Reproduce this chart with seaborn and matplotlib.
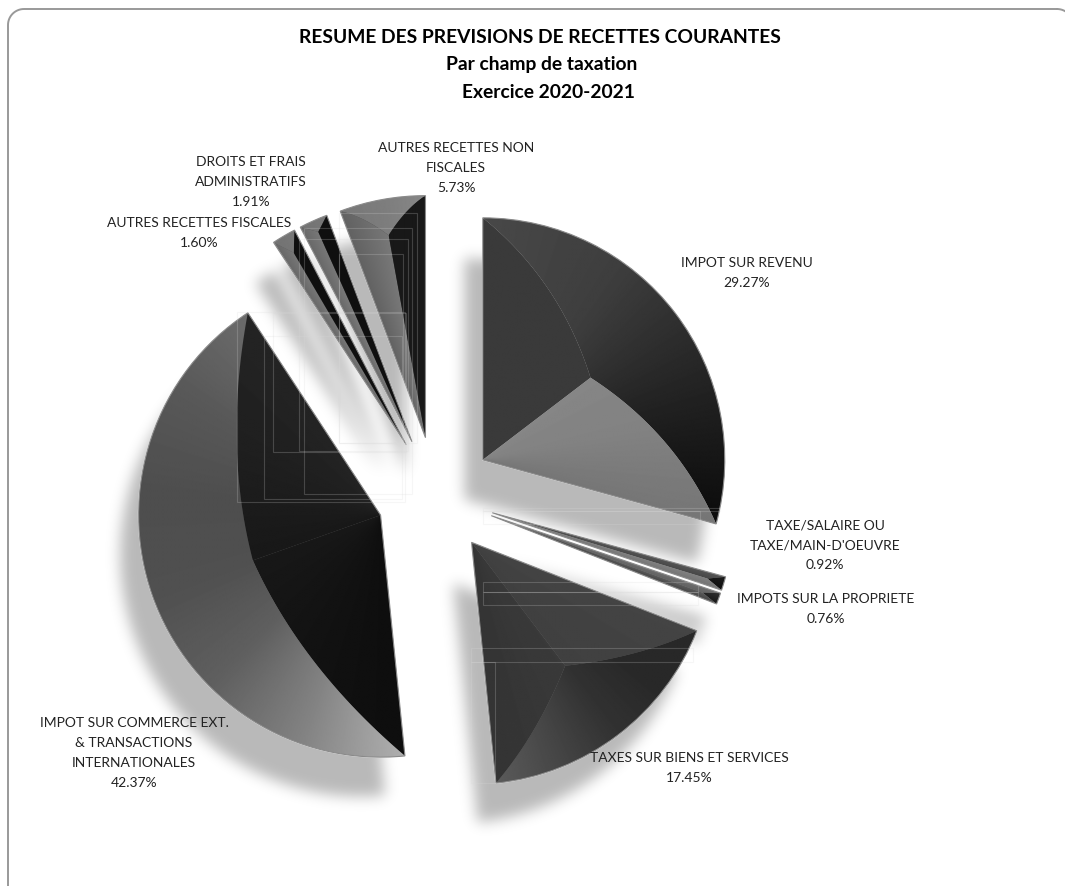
import numpy as np
import matplotlib
matplotlib.use("Agg")
import matplotlib.pyplot as plt
import seaborn as sns
from matplotlib.backends.backend_agg import FigureCanvasAgg
from matplotlib.figure import Figure
from matplotlib.patches import PathPatch, Rectangle
from matplotlib.path import Path

# chart values, clockwise from 12 o'clock
categories = ["IMPOT SUR REVENU", "TAXE/SALAIRE OU\nTAXE/MAIN-D'OEUVRE", "IMPOTS SUR LA PROPRIETE",
              "TAXES SUR BIENS ET SERVICES", "IMPOT SUR COMMERCE EXT.\n& TRANSACTIONS\nINTERNATIONALES",
              "AUTRES RECETTES FISCALES", "DROITS ET FRAIS\nADMINISTRATIFS", "AUTRES RECETTES NON\nFISCALES"]
shares = [29.27, 0.92, 0.76, 17.45, 42.37, 1.60, 1.91, 5.73]
title_lines = ["RESUME DES PREVISIONS DE RECETTES COURANTES", "Par champ de taxation", "Exercice 2020-2021"]

W, H = 1065, 886
CX, CY, RAD = 436, 495.5, 242
EXPLODE = 0.243

# label centres in pixels
label_pos = [(747, 273), (825, 545), (826, 609), (689, 768), (134, 753), (199, 233), (251, 182), (456, 168)]
title_pos = [(540, 38), (542, 65), (548, 93)]

# bevel look of each slice: inner point (fraction of radius), bow of the facet edges, gray stops
bevel = [
    (0.56, 0.12, [58, 58], [72, 62, 36, 12], [134, 130, 118]),
    (0.93, 0.00, [85, 72], [30, 15], [130, 118]),
    (0.93, 0.00, [112, 100], [50, 25], [92, 72]),
    (0.64, 0.05, [68, 64], [40, 40, 50, 70, 90], [58, 52]),
    (0.56, 0.12, [14, 24], [175, 130, 95, 80, 78, 88, 108], [24, 36]),
    (0.92, 0.00, [105, 120], [115, 120], [15, 15]),
    (0.95, 0.00, [105, 120], [115, 120], [15, 15]),
    (0.85, 0.03, [98, 120], [120, 125, 135], [24, 24]),
]

# faint leftover frames seen on top of the slices, in pixels
frames = [(339, 213, 417, 443), (304, 228, 412, 494), (299, 239, 408, 451), (339, 254, 403, 443),
          (273, 313, 406, 452), (264, 336, 402, 499), (237, 312, 405, 502), (483, 508, 720, 511),
          (483, 511, 700, 524), (483, 582, 698, 592), (483, 592, 698, 605),
          (471, 648, 693, 662), (471, 662, 495, 783)]


def px(x, y):
    return (x - CX) / RAD, (CY - y) / RAD


def setup(ax):
    ax.set_xlim(px(0, 0)[0], px(W, 0)[0])
    ax.set_ylim(px(0, H)[1], px(0, 0)[1])
    ax.set_aspect("auto")
    ax.axis("off")


def draw_pie(ax, **kw):
    return ax.pie(shares, explode=[EXPLODE] * len(shares), startangle=90, counterclock=False, radius=1, **kw)


def blurred_shadow():
    # slices drawn off screen, then softened
    f = Figure(figsize=(W / 100, H / 100), dpi=100)
    FigureCanvasAgg(f)
    a = f.add_axes([0, 0, 1, 1])
    draw_pie(a, colors=["k"] * len(shares), center=(-19 / RAD, -40 / RAD))
    setup(a)
    f.canvas.draw()
    mask = 1 - np.asarray(f.canvas.buffer_rgba())[:, :, 0] / 255
    x = np.arange(-21, 22)
    k = np.exp(-x ** 2 / (2 * 7.0 ** 2))
    k /= k.sum()
    mask = np.apply_along_axis(np.convolve, 0, mask, k, mode="same")
    mask = np.apply_along_axis(np.convolve, 1, mask, k, mode="same")
    rgba = np.zeros(mask.shape + (4,))
    rgba[:, :, 3] = 0.31 * mask
    return rgba


def facet_image(ax, poly, apex, t_fn, stops):
    xs, ys = poly[:, 0], poly[:, 1]
    x0, x1, y0, y1 = xs.min(), xs.max(), ys.min(), ys.max()
    nx, ny = max(int((x1 - x0) * RAD), 2), max(int((y1 - y0) * RAD), 2)
    gx, gy = np.meshgrid(np.linspace(x0, x1, nx), np.linspace(y1, y0, ny))
    ang = np.degrees(np.arctan2(gy - apex[1], gx - apex[0]))
    t = np.clip(t_fn(ang), 0, 1)
    gray = np.interp(t, np.linspace(0, 1, len(stops)), stops) / 255
    im = ax.imshow(gray, cmap="gray", vmin=0, vmax=1, extent=(x0, x1, y0, y1), aspect="auto",
                   interpolation="bilinear", zorder=2)
    im.set_clip_path(PathPatch(Path(np.vstack([poly, poly[:1]])), transform=ax.transData))


def bow(p, q, dirn, b):
    u = np.linspace(0, 1, 30)[:, None]
    ctrl = (p + q) / 2 + b * dirn
    return (1 - u) ** 2 * p + 2 * u * (1 - u) * ctrl + u ** 2 * q


def rounded_frame(x0, y0, x1, y1, r):
    # polyline, a curve running off the canvas comes out bent
    corners = [(x1 - r, y0 + r, 90, 0), (x1 - r, y1 - r, 0, -90), (x0 + r, y1 - r, -90, -180), (x0 + r, y0 + r, 180, 90)]
    pts = []
    for cx, cy, a0, a1 in corners:
        a = np.radians(np.linspace(a0, a1, 16))
        pts.append(np.column_stack([cx + r * np.cos(a), cy - r * np.sin(a)]))
    pts = np.vstack(pts + [pts[0][:1]])
    return px(pts[:, 0], pts[:, 1])


sns.set_theme(style="white")
plt.rcParams["font.family"] = ["Lato", "DejaVu Sans"]

fig = plt.figure(figsize=(W / 100, H / 100), dpi=100, facecolor="white")
ax = fig.add_axes([0, 0, 1, 1])

ax.imshow(blurred_shadow(), extent=(px(0, 0)[0], px(W, 0)[0], px(0, H)[1], px(0, 0)[1]),
          aspect="auto", interpolation="nearest", zorder=0)

wedges, _ = draw_pie(ax, colors=sns.color_palette("Greys_d", len(shares)))
for w in wedges:
    w.set_zorder(1)

# facets of every slice
total = sum(shares)
start = 90.0
for val, (frac, b, s_stops, a_stops, e_stops) in zip(shares, bevel):
    span = val / total * 360
    end = start - span
    mid = np.radians((start + end) / 2)
    dirn = np.array([np.cos(mid), np.sin(mid)])
    apex = EXPLODE * dirn
    th = np.radians(np.linspace(start, end, 120))
    arc = apex + np.column_stack([np.cos(th), np.sin(th)])
    inner = apex + frac * dirn
    to_s = bow(inner, arc[0], dirn, b)
    to_e = bow(arc[-1], inner, dirn, b)
    st = start

    def t_full(a, st=st, span=span):
        return ((st - a) % 360) / span

    facet_image(ax, np.vstack([[apex], arc[:1], to_s[::-1]]), apex, lambda a, f=t_full: 2 * f(a), s_stops)
    facet_image(ax, np.vstack([to_s, arc, to_e]), apex, t_full, a_stops)
    facet_image(ax, np.vstack([[apex], to_e[::-1], arc[-1:]]), apex, lambda a, f=t_full: 2 * f(a) - 1, e_stops)
    start = end

# thin outline above the facets
outlines, _ = draw_pie(ax, colors=["none"] * len(shares), wedgeprops={"edgecolor": "#8a8a8a", "linewidth": 0.8})
for w in outlines:
    w.set_zorder(3)

for x0, y0, x1, y1 in frames:
    lx, ly = px(x0, y1)
    ax.add_patch(Rectangle((lx, ly), (x1 - x0) / RAD, (y1 - y0) / RAD, fill=False, zorder=4,
                           edgecolor=(0.85, 0.85, 0.85, 0.22), linewidth=0.8))

for name, val, (x, y) in zip(categories, shares, label_pos):
    tx, ty = px(x, y)
    ax.text(tx, ty, f"{name}\n{val:.2f}%", ha="center", va="center", fontsize=10, color="#222222",
            linespacing=1.78, zorder=5)

for line, (x, y) in zip(title_lines, title_pos):
    tx, ty = px(x, y)
    ax.text(tx, ty, line, ha="center", va="center", fontsize=13.9, fontweight="bold", color="black", zorder=5)

# rounded chart frame, running past the right and bottom of the image
fx, fy = rounded_frame(8, 9, 1073, 905, 16)
ax.plot(fx, fy, color="#999999", linewidth=1.4, zorder=5)

setup(ax)
fig.savefig("out.png", dpi=100, facecolor="white")
